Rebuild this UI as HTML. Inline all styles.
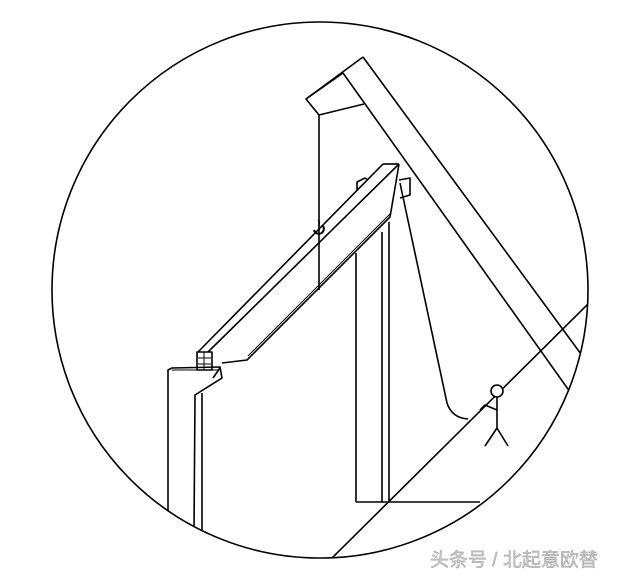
<!DOCTYPE html>
<html><head><meta charset="utf-8"><style>
html,body{margin:0;padding:0;background:#fff;}
svg{display:block;}
</style></head><body>
<svg width="640" height="579" viewBox="0 0 640 579" xmlns="http://www.w3.org/2000/svg">
<defs><clipPath id="c"><circle cx="320" cy="290" r="268"/></clipPath></defs>
<rect width="640" height="579" fill="#fff"/>
<g clip-path="url(#c)" stroke="#000" stroke-width="1.6" fill="none" stroke-linejoin="round">
  <!-- crane boom -->
  <line x1="363" y1="57" x2="600" y2="380"/>
  <line x1="343" y1="73" x2="590" y2="420"/>
  <polyline points="343,73 306,99 319,115 364,104"/>
  <line x1="306" y1="99" x2="363" y2="57"/>
  <!-- hanging rope -->
  <line x1="319" y1="115" x2="319" y2="290"/>
  <!-- slope line -->
  <line x1="330" y1="560" x2="590" y2="302"/>
  <!-- right column -->
  <line x1="356" y1="253" x2="356" y2="502"/>
  <line x1="382" y1="232" x2="382" y2="502"/>
  <line x1="389" y1="222" x2="389" y2="502"/>
  <line x1="356" y1="502" x2="480" y2="502"/>
  <!-- beam -->
  <line x1="198" y1="352" x2="383" y2="164"/>
  <line x1="208" y1="352" x2="399" y2="164"/>
  <line x1="383" y1="164" x2="399" y2="164"/>
  <polyline points="399,164 396,182 390,217 247,360 222,363"/>
  <line x1="248" y1="356" x2="391" y2="213" stroke-width="1"/>
  <!-- blocks -->
  <polyline points="357,190 357,182 365,178 368,180"/>
  <polyline points="399,180 410,178 410,195 400,198"/>
  <!-- rope to person -->
  <polyline points="400,183 447,403"/>
  <path d="M447,403 Q452,418 468,419"/>
  <!-- person -->
  <circle cx="497" cy="391" r="6" fill="#fff"/>
  <line x1="497" y1="397" x2="497" y2="428"/>
  <line x1="497" y1="428" x2="485" y2="446"/>
  <line x1="497" y1="428" x2="508" y2="446"/>
  <polyline points="497,410 485,405 480,410"/>
  <!-- hook -->
  <path d="M314,230 a5,5 0 1 0 9,-4" stroke-width="2"/>
  <path d="M318,226 q3,-3 0,-6" stroke-width="1.2"/>
  <!-- left column -->
  <polyline points="168,520 168,370 172,368 220,367 222,378 195,395 194,530"/>
  <line x1="202" y1="393" x2="202" y2="530"/>
  <line x1="172" y1="370" x2="218" y2="370" stroke-width="1"/>
  <line x1="220" y1="368" x2="213" y2="378"/>
  <!-- plate -->
  <rect x="197" y="352" width="15" height="18"/>
  <line x1="204" y1="352" x2="204" y2="370" stroke-width="1"/>
  <line x1="198" y1="358" x2="211" y2="358" stroke-width="1"/>
  <line x1="198" y1="364" x2="211" y2="364" stroke-width="1"/>
</g>
<circle cx="320" cy="290" r="268" stroke="#000" stroke-width="1.6" fill="none"/>
<text x="430" y="566" font-family="Liberation Sans, Noto Sans CJK SC, sans-serif" font-size="19" fill="#c8c8c8" stroke="#999" stroke-width="0.4">头条号 / 北起意欧替</text>
</svg>
</body></html>
